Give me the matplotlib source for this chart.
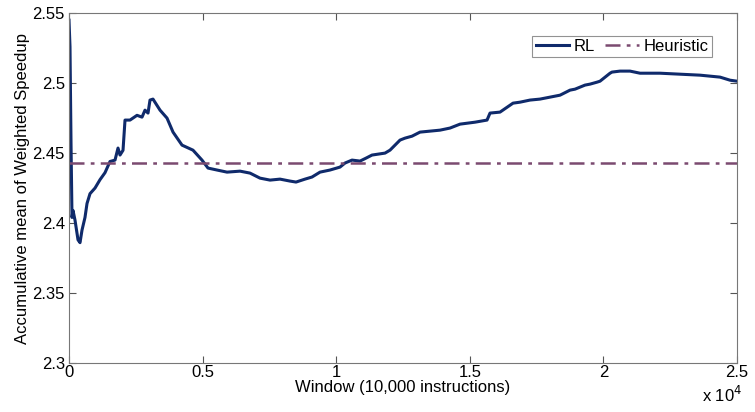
import matplotlib
matplotlib.use("Agg")
import matplotlib.pyplot as plt
from matplotlib.ticker import FuncFormatter

plt.rcParams['font.family'] = ['Liberation Sans', 'DejaVu Sans']

# RL accumulative mean (window index, value)
rl_x = [0, 37, 75, 112, 150, 225, 337, 412, 487, 598, 674, 786, 973, 1160, 1347,
        1534, 1722, 1834, 1909, 2021, 2096, 2283, 2545, 2732, 2844, 2957, 3031, 3143,
        3406, 3668, 3893, 4229, 4640, 4977, 5202, 5539, 5913, 6400, 6774, 7148,
        7523, 7897, 8271, 8496, 8832, 9094, 9394, 9768, 10142, 10329, 10591,
        10891, 11115, 11340, 11826, 12013, 12388, 12575, 12837, 13136, 13885,
        14259, 14633, 15195, 15644, 15756, 16130, 16617, 16879, 17253, 17627,
        18002, 18376, 18750, 18937, 19311, 19499, 19760, 19873, 20247, 20322,
        20621, 20995, 21370, 22118, 22867, 23615, 24364, 24738, 25000]
rl_y = [2.545, 2.526, 2.457, 2.404, 2.409, 2.402, 2.388, 2.386, 2.395, 2.404,
        2.414, 2.421, 2.425, 2.431, 2.436, 2.444, 2.445, 2.4536, 2.4486, 2.452,
        2.4736, 2.4736, 2.477, 2.4757, 2.4807, 2.4786, 2.4879, 2.4886, 2.4807,
        2.475, 2.465, 2.4557, 2.4521, 2.445, 2.4393, 2.4379, 2.4364, 2.4371,
        2.4357, 2.4321, 2.4307, 2.4314, 2.4300, 2.4293, 2.4314, 2.4329, 2.4364,
        2.4379, 2.44, 2.4429, 2.445, 2.4443, 2.4464, 2.4486, 2.45, 2.4521,
        2.4593, 2.4607, 2.4621, 2.465, 2.4664, 2.4679, 2.4707, 2.4721, 2.4736,
        2.4786, 2.4793, 2.4857, 2.4864, 2.4879, 2.4886, 2.49, 2.4914, 2.495,
        2.4957, 2.4986, 2.4993, 2.5007, 2.5014, 2.5071, 2.5079, 2.5086, 2.5086,
        2.5071, 2.5071, 2.5064, 2.5057, 2.5043, 2.5021, 2.5014]

heuristic_value = 2.4429

xticks = [0, 5000, 10000, 15000, 20000, 25000]
yticks = [2.3, 2.35, 2.4, 2.45, 2.5, 2.55]

FS = 12

fig = plt.figure(figsize=(7.55, 4.12), dpi=100)
ax = fig.add_axes([0.0914, 0.119, 0.8848, 0.849])

ax.plot(rl_x, rl_y, color='#0f2a6b', lw=2.2, label='RL')
ax.plot([0, 25000], [heuristic_value, heuristic_value], color='#7b4a70', lw=1.8,
        ls=(0, (6, 2.5, 1.5, 2.5)), label='Heuristic')

ax.set_xlim(0, 25000)
ax.set_ylim(2.3, 2.55)
ax.set_xticks(xticks)
ax.set_yticks(yticks)
ax.xaxis.set_major_formatter(FuncFormatter(lambda v, p: ('%g' % (v / 1e4))))
ax.yaxis.set_major_formatter(FuncFormatter(lambda v, p: ('%g' % round(v, 2))))
ax.tick_params(direction='in', top=True, right=True, labelsize=FS, length=5,
               color='#555555')
ax.tick_params(axis='x', pad=1.5)
ax.tick_params(axis='y', pad=3)
for s in ax.spines.values():
    s.set_color('#777777')
    s.set_linewidth(0.8)

ax.set_xlabel('Window (10,000 instructions)', fontsize=FS, labelpad=0)
ax.set_ylabel('Accumulative mean of Weighted Speedup', fontsize=FS, labelpad=2)
fig.text(0.957, 0.018, r'x 10$^4$', fontsize=FS, ha='center', va='bottom')

leg = ax.legend(loc='upper right', ncol=2, fontsize=FS, frameon=True, fancybox=False,
                handlelength=2.0, columnspacing=0.6, handletextpad=0.3,
                borderpad=0.2, bbox_to_anchor=(0.975, 0.96))
leg.get_frame().set_edgecolor('#777777')
leg.get_frame().set_linewidth(0.8)

fig.savefig('out.png', dpi=100)
